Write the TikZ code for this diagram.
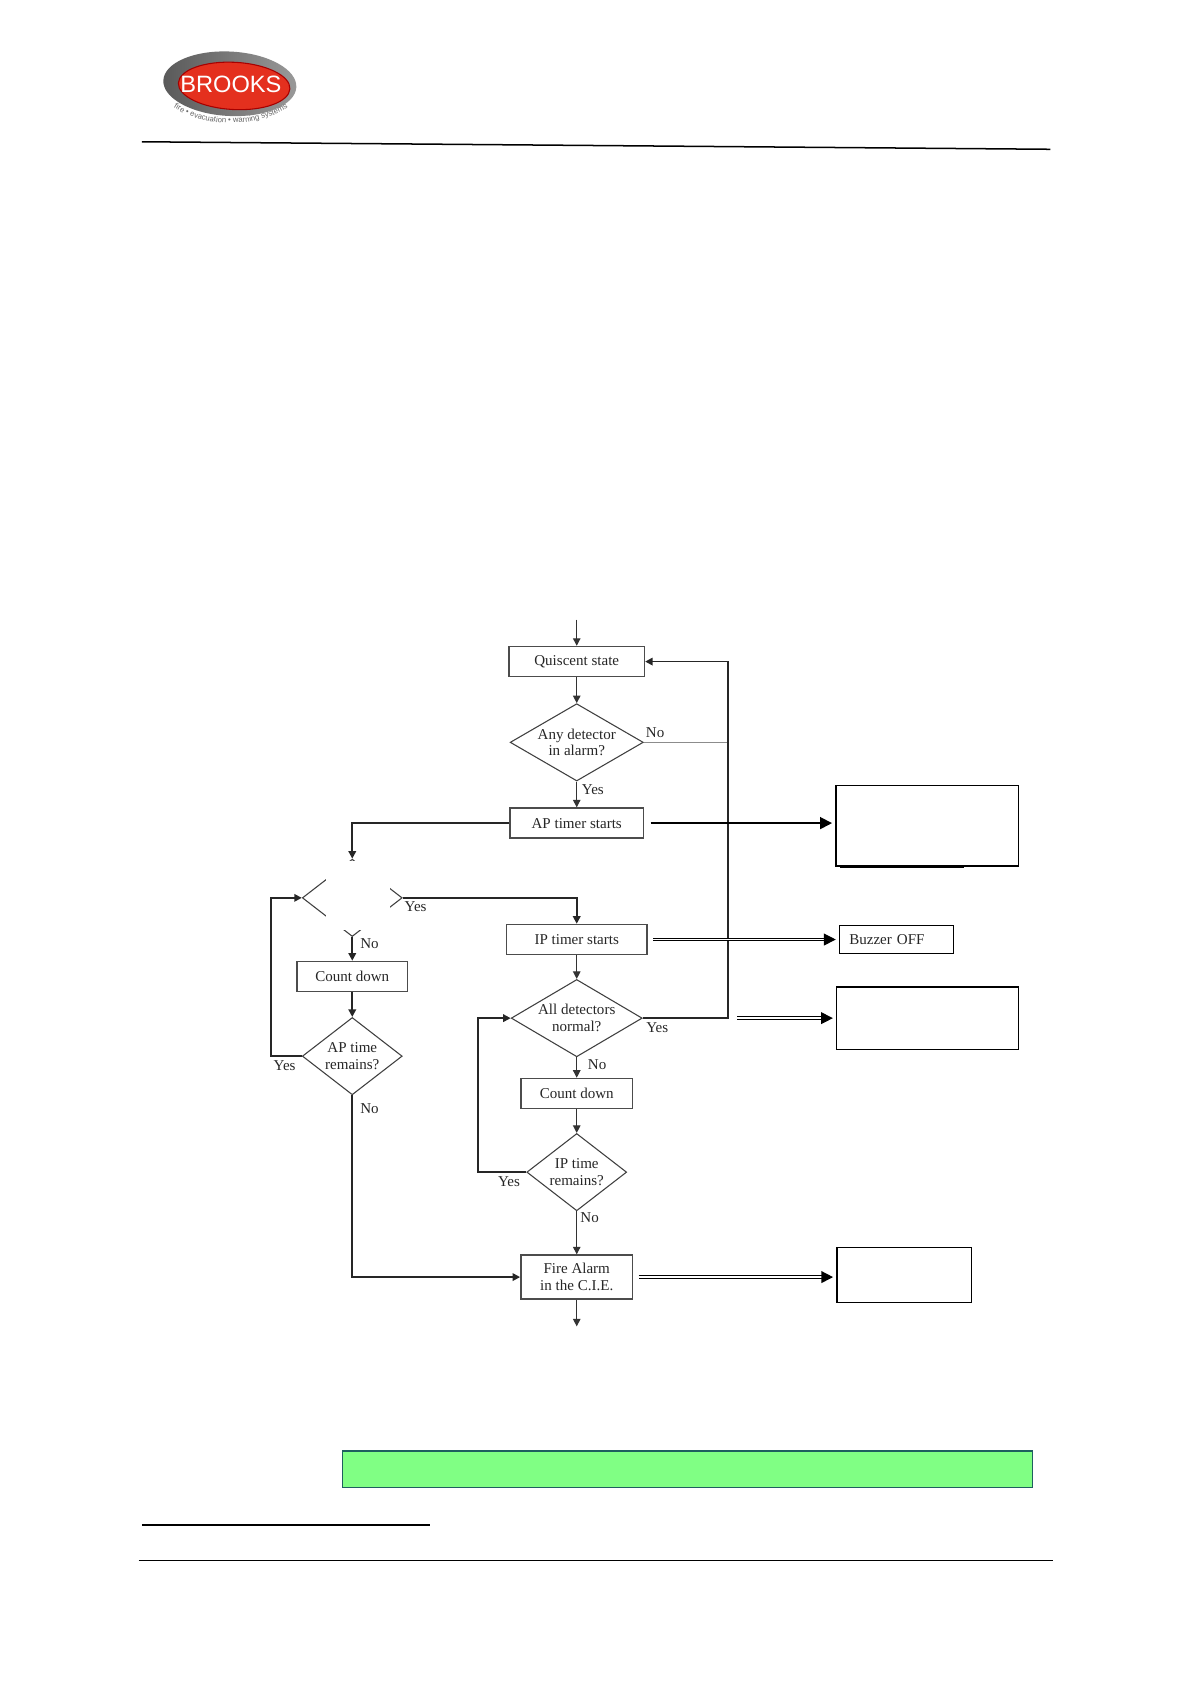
\documentclass[tikz,border=0pt]{standalone}
\usepackage{fontspec}
\setmainfont{Liberation Serif}
\newfontfamily\logofont{Liberation Sans}
\usetikzlibrary{shapes.geometric, arrows.meta, positioning, calc, decorations.text}
\definecolor{barfill}{HTML}{80FF84}
\definecolor{barline}{HTML}{1F5F5F}
\definecolor{logored}{HTML}{E4301E}

\begin{document}
\begin{tikzpicture} [
    x=0.5pt, y=-0.5pt,
    flowtext/.style={font=\fontsize{7}{7.8}\selectfont, text=black!85},
    process/.style={rectangle, draw=black!70, line width=0.7pt, flowtext, align=center, inner sep=0pt, minimum height=14pt},
    decision/.style={diamond, draw=black!75, line width=0.5pt, flowtext, align=center, inner sep=0pt, minimum width=46.5pt, minimum height=36pt, aspect=1.3},
    blank/.style={rectangle, draw=black, line width=0.6pt, inner sep=0pt},
    lbl/.style={flowtext, inner sep=0pt},
    arrow/.style={-{Triangle[length=3.5pt,width=3.5pt]}, line width=0.5pt, black!80},
    heavy/.style={-{Triangle[length=3.5pt,width=3.5pt]}, line width=0.8pt, black!85},
    wide/.style={-{Triangle[length=5.5pt,width=5.5pt]}, line width=0.8pt, black, shorten >=1.5pt},
    twin/.style={-{Triangle[length=5.5pt,width=5.5pt]}, double, double distance=0.7pt, line width=0.5pt, black, shorten >=1.5pt},
    rule/.style={line width=0.7pt, black}
]
\useasboundingbox (0,0) rectangle (1109,1568);

% Logo and page rules
\shade[left color=black!65, right color=black!40, rotate around={-3:(214,78)}] (214,78) ellipse (62 and 30);
\fill[logored, draw=red!65!black, line width=0.5pt, rotate around={-3:(218,80)}] (218,80) ellipse (52 and 22);
\node[font=\logofont\fontsize{11}{12}\selectfont, text=white, inner sep=0pt] (brand) at (215,78.5) {BROOKS};
\path[decorate, font=\logofont\fontsize{3.6}{4}\selectfont, decoration={text along path, text align=center, text={|\logofont\fontsize{3.6}{4}\selectfont\color{black!60}|fire • evacuation • warning systems}}]
    (158,98) .. controls (190,120) and (238,120) .. (272,98);
\coordinate (ruleTopA) at (132,132);
\coordinate (ruleTopB) at (978,139);
\draw[rule] (ruleTopA) -- (ruleTopB);

% Main column
\node[process, minimum width=63pt] (quiet) at (537,616) {Quiscent state};
\node[decision, minimum width=62pt, aspect=1.72, below=12pt of quiet] (anyDet) {Any detector\\in alarm?};
\node[process, minimum width=62pt, below=12pt of anyDet] (apTimer) {AP timer starts};
\node[process, minimum width=65.5pt, below=39.5pt of apTimer] (ipTimer) {IP timer starts};
\node[decision, minimum width=61pt, aspect=1.67, below=11pt of ipTimer] (allDet) {All detectors\\normal?};
\node[process, minimum width=52pt, below=9.5pt of allDet] (countR) {Count down};
\node[decision, below=11pt of countR] (ipRemain) {IP time\\remains?};
\node[process, minimum width=52pt, minimum height=20.5pt, below=20pt of ipRemain] (fire) {Fire Alarm\\in the C.I.E.};

% Left column
\node[decision] (apCheck) at (328,836) {};
\fill[white] ($(apCheck.center)+(-24,-34.5)$) rectangle ($(apCheck.center)+(35,30)$);
\node[process, minimum width=51.5pt, below=11pt of apCheck] (countL) {Count down};
\node[decision, below=11.5pt of countL] (apRemain) {AP time\\remains?};

% Boxes on the right
\node[blank, minimum width=85pt, minimum height=37.5pt, right=89pt of apTimer, yshift=-1.2pt] (boxA) {};
\draw[line width=1.2pt] ($(boxA.south west)+(4,0)$) -- ($(boxA.south west)+(120,0)$);
\node[blank, flowtext, text width=44pt, align=left, inner xsep=4.5pt, minimum height=13pt, right=89pt of ipTimer] (buzzer) {Buzzer OFF};
\node[blank, minimum width=84.5pt, minimum height=29pt, right=90pt of allDet] (boxB) {};
\node[blank, minimum width=62.5pt, minimum height=25.5pt, right=94.5pt of fire, yshift=1pt] (boxC) {};
\node[rectangle, draw=barline, fill=barfill, line width=0.5pt, inner sep=0pt, minimum width=321pt, minimum height=17pt] (bar) at (640,1368) {};

% Connectors
\coordinate (entry) at (537,577);
\coordinate (exit) at (537,1235);
\coordinate (trunk) at (678,691);
\draw[arrow] (entry) -- (quiet.north);
\draw[arrow] (quiet) -- (anyDet);
\draw[arrow] (anyDet) -- (apTimer);
\draw[line width=0.5pt, black!45] (anyDet.east) -- (anyDet.east -| trunk);
\draw[heavy] (allDet.east) -| (trunk) |- (quiet.east);
\draw[heavy] (apTimer.west) -| (apCheck.north);
\draw[heavy] (apCheck.east) -| (ipTimer.north);
\draw[arrow] (ipTimer) -- (allDet);
\draw[arrow] (allDet) -- (countR);
\draw[arrow] (countR) -- (ipRemain);
\draw[arrow] (ipRemain) -- (fire);
\draw[arrow] (fire) -- (exit);
\draw[heavy] (ipRemain.west) -- ++(-45,0) |- (allDet.west);
\draw[heavy] (apCheck) -- (countL);
\draw[heavy] (countL) -- (apRemain);
\draw[heavy] (apRemain.west) -- ++(-29,0) |- (apCheck.west);
\draw[heavy] (apRemain.south) |- (fire.west);
\draw[wide, shorten <=3pt] (apTimer.east) -- (apTimer.east -| boxA.west);
\draw[twin, shorten <=2.5pt] (ipTimer.east) -- (ipTimer.east -| buzzer.west) ;
\draw[twin, shorten <=44pt] (allDet.east) -- (allDet.east -| boxB.west);
\draw[twin, line width=0.7pt, shorten <=2.5pt] (fire.east) -- (fire.east -| boxC.west);

% Branch labels
\node[lbl] (noAny) at (610,682) {No};
\node[lbl] (yesAny) at (552,735) {Yes};
\node[lbl] (yesCheck) at (387,844) {Yes};
\node[lbl] (noCheck) at (344,879) {No};
\node[lbl] (yesRemainL) at (265,992) {Yes};
\node[lbl] (noRemainL) at (344,1032) {No};
\node[lbl] (yesAll) at (612,957) {Yes};
\node[lbl] (noAll) at (556,991) {No};
\node[lbl] (yesRemainR) at (474,1100) {Yes};
\node[lbl] (noRemainR) at (549,1134) {No};

% Footer rules
\coordinate (noteA) at (132,1420);
\coordinate (noteB) at (400,1420);
\coordinate (footA) at (129,1453);
\coordinate (footB) at (980,1453);
\draw[rule] (noteA) -- (noteB);
\draw[rule] (footA) -- (footB);

\end{tikzpicture}
\end{document}
